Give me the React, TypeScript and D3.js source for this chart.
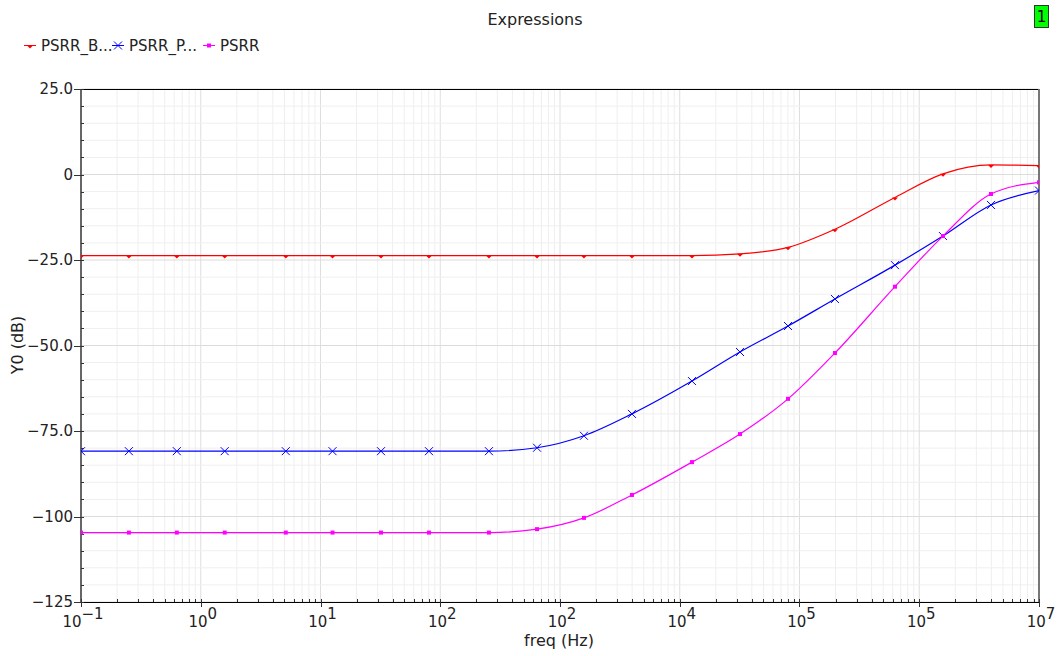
import React, { useEffect, useRef } from 'react';
import * as d3 from 'd3';

// sweep points (Hz) where the markers sit
const freqs = [0.1, 0.251, 0.631, 1.585, 5.13, 12.6, 32.0, 80.5, 255, 643, 1585, 3990,
	12650, 31850, 80200, 197700, 627000, 1578000, 3972000, 1e7];

const psrrB = [-23.7, -23.7, -23.7, -23.7, -23.7, -23.7, -23.7, -23.7, -23.7, -23.7, -23.7, -23.7,
	-23.7, -23.2, -21.3, -16.0, -6.7, 0.2, 2.8, 2.6];
const psrrP = [-80.9, -80.9, -80.9, -80.9, -80.9, -80.9, -80.9, -80.9, -80.9, -79.9, -76.4, -70.0,
	-60.4, -51.9, -44.3, -36.4, -26.5, -18.0, -8.9, -4.7];
const psrr = [-104.7, -104.7, -104.7, -104.7, -104.7, -104.7, -104.7, -104.7, -104.7, -103.7, -100.4, -93.7,
	-84.1, -75.9, -65.6, -52.2, -32.8, -18.0, -5.7, -2.3];

const yTicks = [25, 0, -25, -50, -75, -100, -125];
const yTickLabels = ['25.0', '0', '−25.0', '−50.0', '−75.0', '−100', '−125'];
const xTicks = [1e-1, 1, 10, 100, 1e3, 1e4, 1e5, 1e6, 1e7];
const xTickExps = ['−1', '0', '1', '2', '2', '4', '5', '5', '7'];

const series = [
	{ name: 'PSRR_B...', values: psrrB, color: '#ff0000', marker: 'tri', lx: 24 },
	{ name: 'PSRR_P...', values: psrrP, color: '#0000ff', marker: 'x', lx: 112 },
	{ name: 'PSRR', values: psrr, color: '#ff00ff', marker: 'sq', lx: 203 }
];

const W = 1060;
const H = 656;
const left = 81;
const right = 1039;
const top = 89;
const bottom = 602;
const font = '"DejaVu Sans", Verdana, sans-serif';

const drawMarker = (g, kind, cx, cy, color) => {
	if (kind === 'tri') {
		g.append('path').attr('d', `M${ cx - 3 },${ cy }L${ cx + 3 },${ cy }L${ cx },${ cy + 3 }Z`)
			.attr('fill', color);
	} else if (kind === 'x') {
		g.append('path').attr('d', `M${ cx - 4 },${ cy - 4 }L${ cx + 4 },${ cy + 4 }M${ cx - 4 },${ cy + 4 }L${ cx + 4 },${ cy - 4 }`)
			.attr('stroke', color).attr('stroke-width', 1);
	} else {
		g.append('rect').attr('x', cx - 2).attr('y', cy - 2)
			.attr('width', 4).attr('height', 4).attr('fill', color);
	}
};

const chart = (ref) => {
	const svg = d3.select(ref.current);
	svg.selectAll('*').remove();

	const x = d3.scaleLog().domain([1e-1, 1e7]).range([left, right]);
	const y = d3.scaleLinear().domain([-125, 25]).range([bottom, top]);

	svg.append('rect').attr('width', W).attr('height', H).attr('fill', '#fff');

	svg.append('clipPath').attr('id', 'plot-clip')
		.append('rect').attr('x', left).attr('y', top - 4)
		.attr('width', right - left).attr('height', bottom - top + 8);

	// grid
	const grid = svg.append('g');
	const minorX = [];
	for (let d = -1; d < 7; d++) {
		for (let k = 2; k < 10; k++) minorX.push(k * Math.pow(10, d));
	}
	minorX.forEach((f) => {
		grid.append('line').attr('x1', x(f)).attr('x2', x(f))
			.attr('y1', top).attr('y2', bottom)
			.attr('stroke', '#efefef');
	});
	xTicks.forEach((f) => {
		grid.append('line').attr('x1', x(f)).attr('x2', x(f))
			.attr('y1', top).attr('y2', bottom)
			.attr('stroke', '#dedede');
	});
	d3.range(-125, 26, 5).forEach((v) => {
		grid.append('line').attr('x1', left).attr('x2', right)
			.attr('y1', y(v)).attr('y2', y(v))
			.attr('stroke', v % 25 === 0 ? '#dcdcdc' : '#efefef');
	});

	// frame
	svg.append('line').attr('x1', left).attr('x2', right).attr('y1', top + 0.5).attr('y2', top + 0.5)
		.attr('stroke', '#000');
	svg.append('line').attr('x1', left).attr('x2', right).attr('y1', bottom + 0.5).attr('y2', bottom + 0.5)
		.attr('stroke', '#000');
	svg.append('line').attr('x1', right).attr('x2', right).attr('y1', top).attr('y2', bottom)
		.attr('stroke', '#777').attr('stroke-width', 2);
	svg.append('line').attr('x1', left).attr('x2', left).attr('y1', top).attr('y2', bottom + 1)
		.attr('stroke', '#666').attr('stroke-width', 2);

	// y ticks
	d3.range(-125, 26, 5).forEach((v) => {
		const major = v % 25 === 0;
		svg.append('line').attr('x1', major ? left - 7 : left).attr('x2', left + 3)
			.attr('y1', Math.round(y(v)) + 0.5).attr('y2', Math.round(y(v)) + 0.5)
			.attr('stroke', '#333');
	});
	yTicks.forEach((v, i) => {
		svg.append('text').attr('x', 73).attr('y', y(v) + 5)
			.attr('text-anchor', 'end').attr('font-size', 15).attr('font-family', font)
			.attr('fill', '#222').text(yTickLabels[i]);
	});

	// x ticks
	minorX.forEach((f) => {
		svg.append('line').attr('x1', Math.round(x(f)) + 0.5).attr('x2', Math.round(x(f)) + 0.5)
			.attr('y1', bottom - 3).attr('y2', bottom)
			.attr('stroke', '#333');
	});
	xTicks.forEach((f, i) => {
		svg.append('line').attr('x1', Math.round(x(f)) + 0.5).attr('x2', Math.round(x(f)) + 0.5)
			.attr('y1', bottom - 3).attr('y2', bottom + 5)
			.attr('stroke', '#333');
		const t = svg.append('text').attr('x', x(f) + 2).attr('y', 627)
			.attr('text-anchor', 'middle').attr('font-size', 15).attr('font-family', font)
			.attr('fill', '#222');
		t.append('tspan').text('10');
		t.append('tspan').attr('dy', -8).text(xTickExps[i]);
	});

	// series
	const line = d3.line()
		.x((d) => x(d[0]))
		.y((d) => y(d[1]))
		.curve(d3.curveMonotoneX);
	const plot = svg.append('g').attr('clip-path', 'url(#plot-clip)');
	series.forEach((s) => {
		const pts = freqs.map((f, i) => [f, s.values[i]]);
		plot.append('path').attr('d', line(pts))
			.attr('fill', 'none').attr('stroke', s.color).attr('stroke-width', 1.2);
		pts.forEach((p) => drawMarker(plot, s.marker, x(p[0]), y(p[1]), s.color));
	});

	// legend
	series.forEach((s) => {
		svg.append('line').attr('x1', s.lx).attr('x2', s.lx + 12).attr('y1', 45.5).attr('y2', 45.5)
			.attr('stroke', s.color);
		drawMarker(svg, s.marker, s.lx + 6, 45.5, s.color);
		svg.append('text').attr('x', s.lx + 17).attr('y', 51)
			.attr('font-size', 15).attr('font-family', font).attr('fill', '#222')
			.text(s.name);
	});

	// titles
	svg.append('text').attr('x', 535).attr('y', 25).attr('text-anchor', 'middle')
		.attr('font-size', 16).attr('font-family', font).attr('fill', '#222')
		.text('Expressions');
	svg.append('text').attr('x', 559).attr('y', 646).attr('text-anchor', 'middle')
		.attr('font-size', 16).attr('font-family', font).attr('fill', '#222')
		.text('freq (Hz)');
	svg.append('text').attr('transform', 'translate(23,345) rotate(-90)').attr('text-anchor', 'middle')
		.attr('font-size', 16).attr('font-family', font).attr('fill', '#222')
		.text('Y0 (dB)');

	// subwindow badge
	svg.append('rect').attr('x', 1034.5).attr('y', 5.5).attr('width', 14).attr('height', 22)
		.attr('fill', '#00ff00').attr('stroke', '#333');
	svg.append('text').attr('x', 1041.5).attr('y', 22).attr('text-anchor', 'middle')
		.attr('font-size', 15).attr('font-family', font).attr('fill', '#000')
		.text('1');
};

const App = () => {
	const ref = useRef(null);

	useEffect(() => chart(ref), []);

	return (
		<svg ref={ ref } width={ W } height={ H }
			style={ { position: 'absolute', left: 0, top: 0, display: 'block' } }/>
	);
};

export default App;
